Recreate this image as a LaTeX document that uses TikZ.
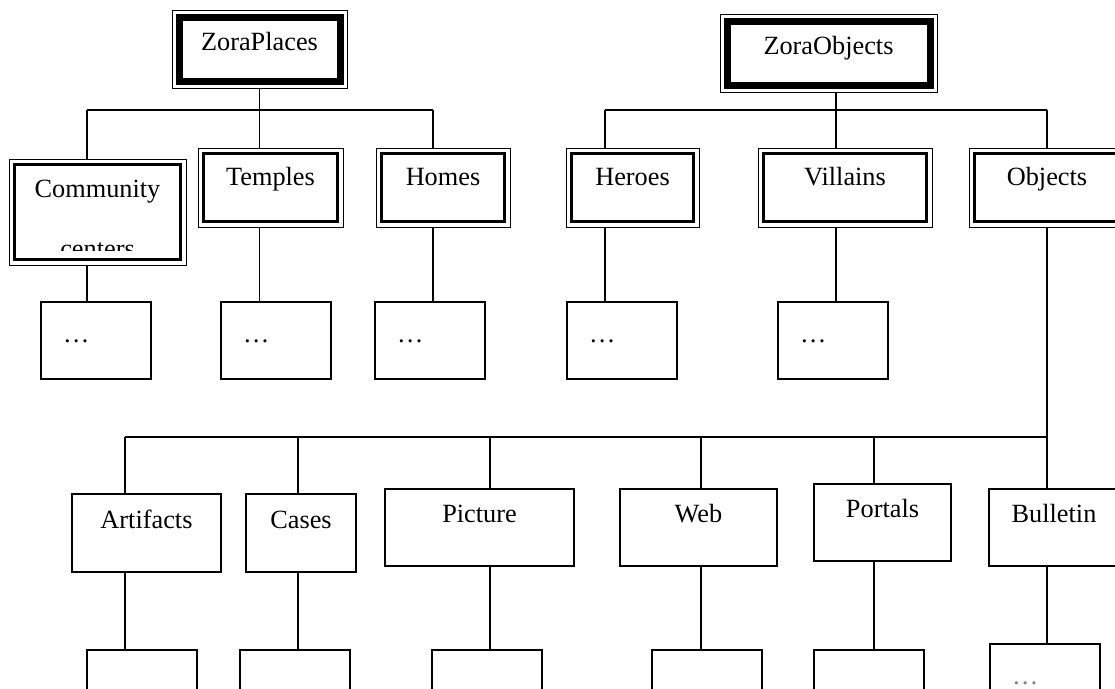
\documentclass[tikz,border=0pt]{standalone}
\usepackage{fontspec}
\setmainfont{Liberation Serif}
\usetikzlibrary{positioning}
\tikzset{
	every node/.style = {font=\fontsize{26.3}{31}\selectfont, inner sep=0pt, outer sep=0pt, anchor=north west},
	conn/.style = {line width=1.1pt},
	topbox/.style = {draw, line width=1pt, text height=40pt,
		path picture={\draw[line width=7pt]
			([shift={(7pt,-7pt)}]path picture bounding box.north west) rectangle
			([shift={(-7pt,7pt)}]path picture bounding box.south east);}},
	classbox/.style = {draw, line width=1pt, text height=37pt, text depth=42pt,
		path picture={\draw[line width=2.6pt]
			([shift={(5.5pt,-5.5pt)}]path picture bounding box.north west) rectangle
			([shift={(-5.5pt,5.5pt)}]path picture bounding box.south east);}},
	subbox/.style = {draw, line width=1.2pt, text height=33pt, text depth=44pt},
	leafbox/.style = {draw, line width=1.2pt, text width=66pt, inner xsep=22pt, align=left,
		text height=40pt, text depth=37pt}
}

\begin{document}
\begin{tikzpicture}[x=1pt, y=-1pt]
		\useasboundingbox (0,0) rectangle (1115,688);
		\clip (0,0) rectangle (1115,688);
		% roots
		\node[topbox, minimum width=175pt, text depth=38pt] (zp) at (172,10) {ZoraPlaces};
		\node[topbox, minimum width=217pt, text depth=38pt] (zo) at (720,14) {ZoraObjects};
		% depth 1
		\node[classbox, minimum width=177pt, text height=38pt, text depth=68pt] (com) at (9,159) {Community};
		\node[classbox, minimum width=145pt] (tem) at (198,148) {Temples};
		\node[classbox, minimum width=134pt] (hom) at (376,148) {Homes};
		\node[classbox, minimum width=133pt] (her) at (566,148) {Heroes};
		\node[classbox, minimum width=174pt] (vil) at (758,148) {Villains};
		\node[classbox, minimum width=156pt] (obj) at (969,148) {Objects};
		\begin{scope}
			\clip (com.north west) rectangle ([yshift=15pt]com.south east);
			\node[anchor=base] (cen) at (97.5,257.5) {centers};
		\end{scope}
		% depth 2
		\foreach \n/\x in {lCom/41, lTem/221, lHom/375, lHer/567, lVil/778}
			\node[leafbox] (\n) at (\x,302) {…};
		% objects
		\node[subbox, minimum width=149pt, text height=34pt] (art) at (72,494) {Artifacts};
		\node[subbox, minimum width=110pt, text height=34pt] (cas) at (246,494) {Cases};
		\node[subbox, minimum width=189pt] (pic) at (385,489) {Picture};
		\node[subbox, minimum width=157pt] (web) at (620,489) {Web};
		\node[subbox, minimum width=137pt] (por) at (814,484) {Portals};
		\node[subbox, minimum width=130pt] (bul) at (989,489) {Bulletin};
		\foreach \n/\x in {lArt/87, lCas/240, lPic/432, lWeb/652, lPor/814}
			\node[leafbox] (\n) at (\x,650) {};
		\node[leafbox, text=gray] (lBul) at (990,644) {…};
		
		% buses
		\coordinate (pCom) at (87,110);
		\coordinate (pTem) at (259.5,110);
		\coordinate (pHom) at (433,110);
		\coordinate (oHer) at (605,110);
		\coordinate (oVil) at (836,110);
		\coordinate (oObj) at (1047,110);
		\coordinate (bArt) at (125,437);
		\coordinate (bCas) at (298,437);
		\coordinate (bPic) at (490,437);
		\coordinate (bWeb) at (701,437);
		\coordinate (bPor) at (874,437);
		\coordinate (bBul) at (1047,437);
		
		\draw[conn] (zp) -- (pTem);
		\draw[conn] (pCom) -- (pHom);
		\draw[conn] (oVil |- zo.south) -- (oVil);
		\draw[conn] (oHer) -- (oObj);
		\foreach \tp/\up/\dn in {pCom/com/lCom, pTem/tem/lTem, pHom/hom/lHom, oHer/her/lHer, oVil/vil/lVil}
			\draw[conn] (\tp) -- (\tp |- \up.north) (\tp |- \up.south) -- (\tp |- \dn.north);
		\draw[conn] (oObj) -- (oObj |- obj.north) (oObj |- obj.south) -- (bBul);
		\draw[conn] (bArt) -- (bBul);
		\foreach \tp/\up/\dn in {bArt/art/lArt, bCas/cas/lCas, bPic/pic/lPic, bWeb/web/lWeb, bPor/por/lPor, bBul/bul/lBul}
			\draw[conn] (\tp) -- (\tp |- \up.north) (\tp |- \up.south) -- (\tp |- \dn.north);
	\end{tikzpicture}
\end{document}
